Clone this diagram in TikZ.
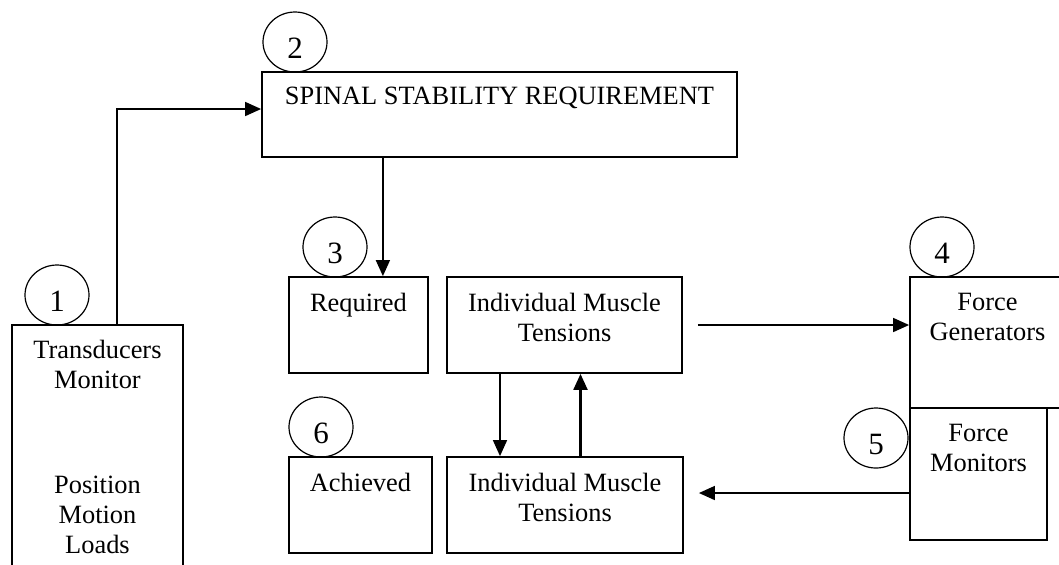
\documentclass[tikz,border=0pt]{standalone}
\usepackage{fontspec}
\setmainfont{Liberation Serif}
\usepackage{tikz}
\usetikzlibrary{arrows.meta}
\usetikzlibrary{positioning}
\usetikzlibrary{shapes.geometric}

\begin{document}
\begin{tikzpicture}[x=0.5pt,y=-0.5pt]
\tikzstyle{every node}=[font=\fontsize{13.2}{15}\selectfont]
\tikzstyle{blk}=[draw,line width=0.9pt,inner sep=0pt]
\tikzstyle{lbl}=[inner sep=0pt,align=center]
\tikzstyle{num}=[draw,ellipse,line width=0.6pt,minimum width=32pt,minimum height=30pt,inner sep=0pt,
  font=\fontsize{15.5}{18}\selectfont,text height=16.5pt,text depth=0pt]
\tikzstyle{arr}=[line width=0.8pt,arrows={-Triangle[length=8pt,width=7pt]}]
\useasboundingbox (0,0) rectangle (1059,564);
\clip (0,0) rectangle (1059,564);
% boxes
\node[blk,minimum width=85.5pt,minimum height=147.5pt] (trans) at (97.5,472.5) {};
\node[blk,minimum width=237.5pt,minimum height=42.5pt] (spinal) at (499.5,114.5) {};
\node[blk,minimum width=69.5pt,minimum height=48pt] (req) at (358.5,325) {};
\node[blk,minimum width=117.5pt,minimum height=48pt] (tenreq) at (564.5,325) {};
\node[blk,minimum width=71.5pt,minimum height=48pt] (ach) at (360.5,505) {};
\node[blk,minimum width=118pt,minimum height=48pt] (tenach) at (565,505) {};
\node[blk,minimum width=77.5pt,minimum height=65.5pt] (fgen) at (987.5,342.5) {};
\node[blk,minimum width=68.5pt,minimum height=66pt] (fmon) at (978.5,474) {};
% texts
\node[lbl,below=8pt of trans.north] (transtxt) {Transducers\\Monitor};
\node[lbl,below=76pt of trans.north] (loadtxt) {Position\\Motion\\Loads};
\node[lbl,below=8pt of spinal.north] (spinaltxt) {SPINAL STABILITY REQUIREMENT};
\node[lbl,below=8.5pt of req.north] (reqtxt) {Required};
\node[lbl,below=8.5pt of tenreq.north] (tenreqtxt) {Individual Muscle\\Tensions};
\node[lbl,below=8.5pt of ach.north] (achtxt) {Achieved};
\node[lbl,below=8.5pt of tenach.north] (tenachtxt) {Individual Muscle\\Tensions};
\node[lbl,below=8.5pt of fgen.north] (fgentxt) {Force\\Generators};
\node[lbl,below=8.5pt of fmon.north] (fmontxt) {Force\\Monitors};
% numbers
\node[num] (n1) at (57,295) {1};
\node[num] (n2) at (295,42) {2};
\node[num] (n3) at (335,247) {3};
\node[num] (n4) at (942,247) {4};
\node[num] (n5) at (876,438) {5};
\node[num] (n6) at (321,427) {6};
% connectors
\coordinate (reqin) at ([xshift=-23pt]req.north east);
\coordinate (fmonout) at ([yshift=-9.5pt]fmon.west);
\coordinate (achin) at ([xshift=7.5pt]tenach.east |- fmonout);
\draw[arr] ([xshift=9.75pt]trans.north) |- ([yshift=2.75pt]spinal.west);
\draw[arr] (spinal.south -| reqin) -- (reqin);
\draw[arr] ([xshift=7.5pt]tenreq.east) -- (tenreq.east -| fgen.west);
\draw[arr] ([xshift=-32.25pt]tenreq.south) -- ([xshift=-32.25pt]tenreq.south |- tenach.north);
\draw[arr,line width=1.1pt] ([xshift=7.75pt]tenach.north) -- ([xshift=7.75pt]tenach.north |- tenreq.south);
\draw[arr] (fmonout) -- (achin);
\end{tikzpicture}
\end{document}
